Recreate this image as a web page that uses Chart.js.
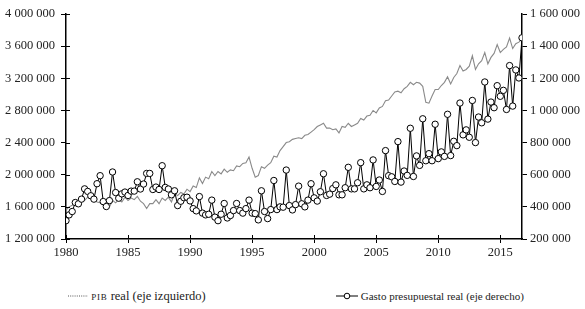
<!DOCTYPE html>
<html>
<head>
<meta charset="utf-8">
<script src="https://cdn.jsdelivr.net/npm/chart.js@4.4.1/dist/chart.umd.min.js"></script>
<style>
  body { margin: 0; background: #fff; }
  #wrap { position: relative; width: 585px; height: 309px; }
  #box { position: absolute; left: 0; top: 0; width: 585px; height: 268px; }
  .legend { position: absolute; top: 289px; font-family: 'Liberation Serif', serif; font-size: 11px; color: #222; white-space: nowrap; }
  .legend span, .legend svg { vertical-align: middle; }
  .sc { font-size: 9px; letter-spacing: 0.8px; }
</style>
</head>
<body>
<div id="wrap">
  <div id="box"><canvas id="chart"></canvas></div>
  <div class="legend" style="left:68px; font-size:12.5px; top:288px">
    <svg width="20" height="6"><line x1="0" y1="3" x2="20" y2="3" stroke="#555" stroke-width="1" stroke-dasharray="1,1.2"/></svg>
    <span><span class="sc">PIB</span> real (eje izquierdo)</span>
  </div>
  <div class="legend" style="left:336px">
    <svg width="22" height="8"><line x1="0" y1="4" x2="22" y2="4" stroke="#000" stroke-width="1"/><circle cx="11" cy="4" r="2.8" fill="#fff" stroke="#000" stroke-width="1"/></svg>
    <span>Gasto presupuestal real (eje derecho)</span>
  </div>
</div>
<script>
// quarterly data, 1980Q1 - 2016Q4, values in thousands
const firstYear = 1980;

const pibReal = [
  1560, 1600, 1620, 1650,  1650, 1690, 1680, 1720,  1700, 1690, 1660, 1650,
  1620, 1600, 1600, 1680,  1650, 1690, 1660, 1720,  1680, 1710, 1690, 1730,
  1670, 1640, 1580, 1640,  1640, 1690, 1640, 1710,  1680, 1720, 1660, 1770,
  1740, 1780, 1760, 1820,  1790, 1860, 1840, 1960,  1890, 1970, 1950, 2040,
  1990, 2040, 2010, 2070,  2030, 2060, 2050, 2110,  2100, 2140, 2150, 2220,
  2080, 1970, 1990, 2100,  2080, 2120, 2150, 2230,  2220, 2300, 2350, 2400,
  2410, 2440, 2450, 2460,  2450, 2490, 2500, 2530,  2560, 2600, 2620, 2640,
  2580, 2580, 2560, 2570,  2520, 2600, 2590, 2640,  2600, 2620, 2640, 2700,
  2680, 2730, 2740, 2800,  2770, 2830, 2850, 2920,  2930, 2980, 3030, 3040,
  3020, 3070, 3100, 3150,  3120, 3150, 3140, 3100,  2900, 2890, 2980, 3060,
  3060, 3110, 3150, 3220,  3130, 3210, 3260, 3360,  3290, 3310, 3350, 3480,
  3310, 3380, 3420, 3520,  3380, 3460, 3510, 3620,  3520, 3560, 3590, 3700,
  3570, 3630, 3650, 3690
];

const gastoReal = [
  314, 350, 371, 427,  419, 448, 512, 496,  469, 448, 544, 594,
  433, 402, 439, 617,  489, 454, 481, 492,  471, 498, 498, 556,
  511, 542, 608, 608,  508, 523, 508, 656,  521, 511, 475, 500,
  408, 435, 457, 460,  437, 389, 375, 464,  361, 350, 354, 442,
  336, 314, 354, 421,  331, 346, 377, 421,  377, 361, 389, 442,
  361, 358, 319, 500,  371, 327, 383, 564,  383, 400, 398, 629,
  408, 381, 414, 529,  419, 400, 442, 544,  456, 436, 494, 606,
  471, 479, 514, 537,  475, 475, 519, 646,  512, 512, 550, 675,
  512, 537, 519, 692,  527, 567, 496, 750,  594, 587, 558, 806,
  554, 623, 596, 889,  589, 717, 658, 948,  687, 731, 687, 914,
  700, 742, 714, 976,  719, 808, 781, 1046,  848, 879, 833, 1062,
  800, 959, 923, 1177,  946, 1052, 1017, 1154,  1088, 1125, 1006, 1279,
  1027, 1252, 1202, 1452
];

const leftTicks = [1200000, 4000000, 400000];   // min, max, step
const rightTicks = [200000, 1600000, 200000];
const yearTicks = [1980, 2016.75, 5];

const fmt = v => String(Math.round(v)).replace(/\B(?=(\d{3})+(?!\d))/g, ' ');
const toPoints = arr => arr.map((v, i) => ({ x: firstYear + i / 4, y: v * 1000 }));

const font = { family: 'Liberation Serif', size: 12.5 };

// little tick stubs that poke into the plot on the left and bottom axes
const innerTicks = {
  id: 'innerTicks',
  afterDraw(chart) {
    const ctx = chart.ctx;
    ctx.save();
    ctx.strokeStyle = '#000';
    ctx.lineWidth = 1;
    const y = chart.scales.y, x = chart.scales.x;
    y.ticks.forEach(t => {
      const py = Math.round(y.getPixelForValue(t.value)) + 0.5;
      ctx.beginPath(); ctx.moveTo(y.right, py); ctx.lineTo(y.right + 4, py); ctx.stroke();
    });
    x.ticks.forEach(t => {
      const px = Math.round(x.getPixelForValue(t.value)) + 0.5;
      ctx.beginPath(); ctx.moveTo(px, x.top); ctx.lineTo(px, x.top - 4); ctx.stroke();
    });
    ctx.restore();
  }
};

new Chart(document.getElementById('chart'), {
  type: 'line',
  data: {
    datasets: [
      {
        label: 'PIB real (eje izquierdo)',
        data: toPoints(pibReal),
        yAxisID: 'y',
        borderColor: '#8a8a8a',
        borderWidth: 1.1,
        pointRadius: 0,
        tension: 0,
        order: 2
      },
      {
        label: 'Gasto presupuestal real (eje derecho)',
        data: toPoints(gastoReal),
        yAxisID: 'y1',
        borderColor: '#000',
        borderWidth: 1,
        pointRadius: 3.2,
        pointBackgroundColor: '#fff',
        pointBorderColor: '#000',
        pointBorderWidth: 1,
        tension: 0,
        order: 1
      }
    ]
  },
  options: {
    responsive: true,
    maintainAspectRatio: false,
    animation: false,
    layout: { padding: { top: 14, left: 0, right: 0, bottom: 0 } },
    plugins: { legend: { display: false }, tooltip: { enabled: false } },
    scales: {
      x: {
        type: 'linear',
        min: yearTicks[0],
        max: yearTicks[1],
        afterFit: s => { s.height = 29; },
        border: { display: true, color: '#000', width: 1.5 },
        grid: { drawOnChartArea: false, color: '#000', tickLength: 4 },
        ticks: { stepSize: yearTicks[2], includeBounds: false, color: '#222', font, padding: 2, maxRotation: 0, callback: v => String(v) }
      },
      y: {
        position: 'left',
        min: leftTicks[0],
        max: leftTicks[1],
        afterFit: s => { s.width = 66; },
        border: { display: true, color: '#000', width: 1.5 },
        grid: { drawOnChartArea: false, color: '#000', tickLength: 5 },
        ticks: { stepSize: leftTicks[2], color: '#222', font, padding: 6, callback: v => fmt(v) }
      },
      y1: {
        position: 'right',
        min: rightTicks[0],
        max: rightTicks[1],
        afterFit: s => { s.width = 63; },
        border: { display: true, color: '#000', width: 1.5 },
        grid: { drawOnChartArea: false, color: '#000', tickLength: 5 },
        ticks: { stepSize: rightTicks[2], color: '#222', font, padding: 3, callback: v => fmt(v) }
      }
    }
  },
  plugins: [innerTicks]
});
</script>
</body>
</html>
